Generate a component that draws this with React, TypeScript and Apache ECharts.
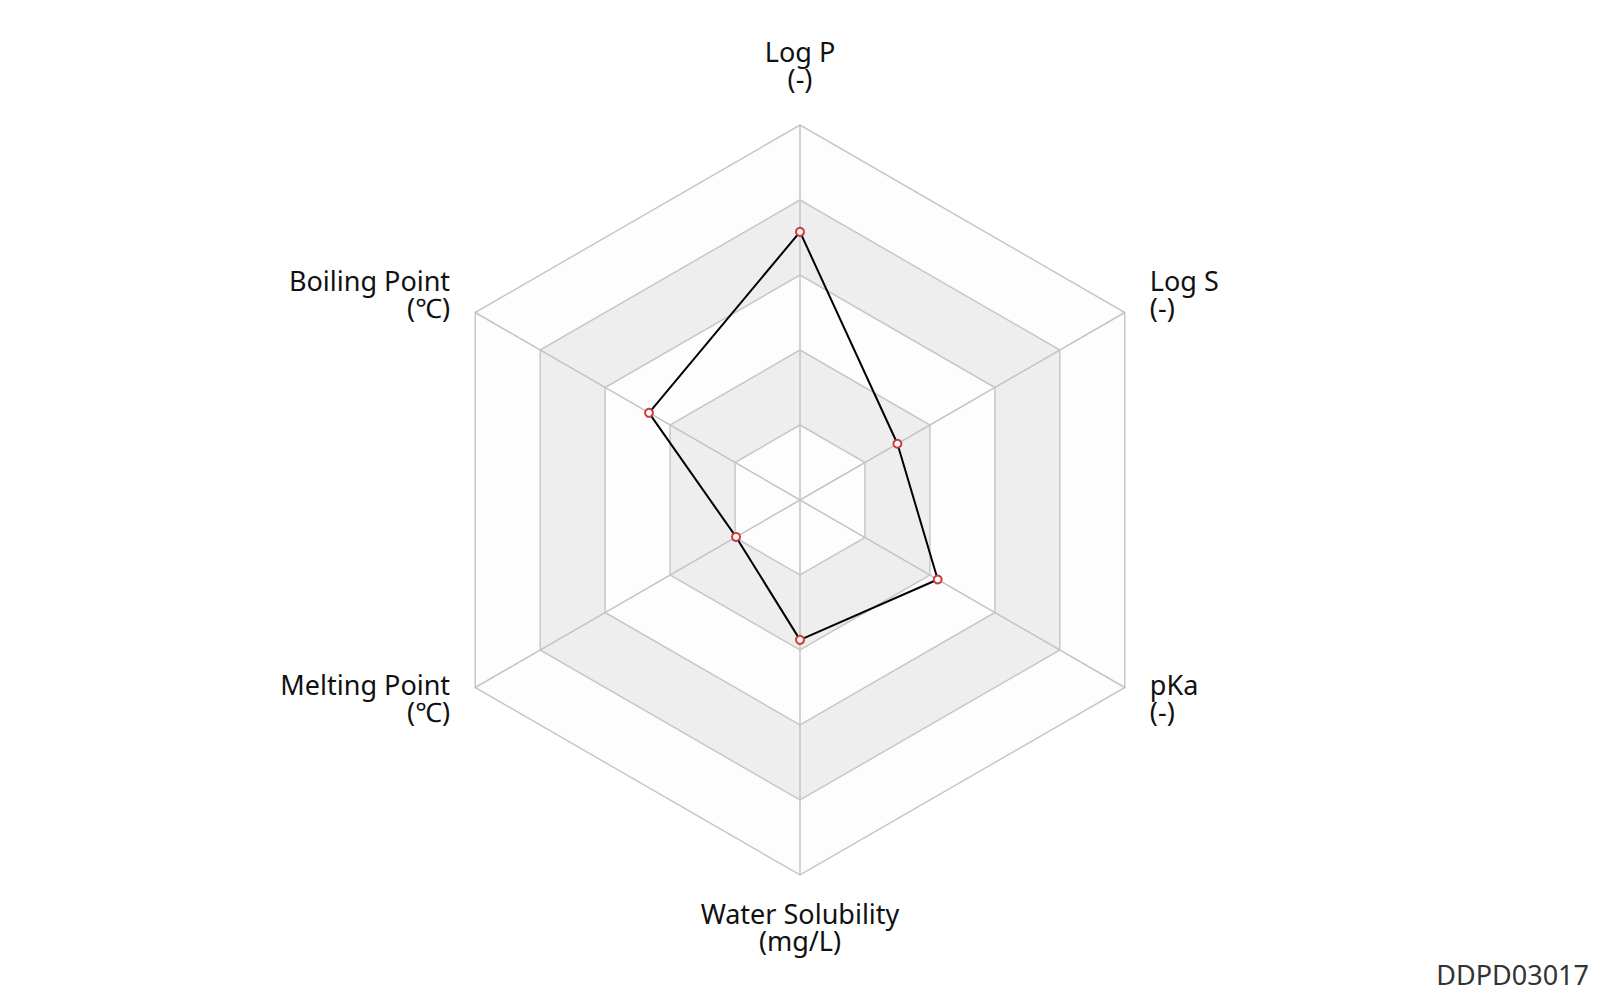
import React, { useEffect, useRef } from "react";
import * as echarts from "echarts";

// Order follows ECharts' counter-clockwise layout starting at the top:
// top, upper-left, lower-left, bottom, lower-right, upper-right
const indicatorNames = ["Log P", "Boiling Point", "Melting Point", "Water Solubility", "pKa", "Log S"];
const indicatorUnits = ["(-)", "(℃)", "(℃)", "(mg/L)", "(-)", "(-)"];
const indicatorMax = [1, 1, 1, 1, 1, 1];
const seriesValues = [0.715, 0.465, 0.197, 0.373, 0.424, 0.3];
const watermark = "DDPD03017";

export default function App() {
  const ref = useRef<HTMLDivElement>(null);
  useEffect(() => {
    if (!ref.current) return;
    const chart = echarts.init(ref.current, undefined, { renderer: "svg" });
    const font = "'Noto Sans', 'Open Sans', sans-serif";
    chart.setOption({
      animation: false,
      backgroundColor: "#ffffff",
      radar: {
        center: [800, 500],
        radius: 375,
        startAngle: 90,
        splitNumber: 5,
        shape: "polygon",
        nameGap: 29,
        indicator: indicatorNames.map((n, i) => ({ name: n + "\n" + indicatorUnits[i], max: indicatorMax[i], min: 0 })),
        axisName: {
          color: "#111",
          fontSize: 27,
          fontFamily: font,
          lineHeight: 27,
          padding: [-4, 0, 4, 0],
          formatter: (name: string) =>
            name
              .split("\n")
              .map((s) => "{n|" + s + "}")
              .join("\n"),
          rich: {
            n: { fontSize: 27, fontFamily: font, lineHeight: 27, color: "#111" },
          },
        },
        axisLine: { lineStyle: { color: "#c4c4c4", width: 1.5 } },
        splitLine: { lineStyle: { color: "#c8c8c8", width: 1.5 } },
        splitArea: {
          show: true,
          areaStyle: { color: ["rgba(250,250,250,0.3)", "rgba(200,200,200,0.3)"] },
        },
      },
      graphic: [
        {
          type: "text",
          right: 11,
          bottom: 12,
          style: {
            text: watermark,
            fontSize: 27,
            fontFamily: font,
            fill: "#333",
          },
        },
      ],
      series: [
        {
          type: "radar",
          symbol: "emptyCircle",
          symbolSize: 8,
          lineStyle: { color: "#000", width: 2 },
          itemStyle: { color: "#d0393b", borderColor: "#d0393b", borderWidth: 2 },
          data: [{ value: seriesValues }],
        },
      ],
    });
    return () => chart.dispose();
  }, []);
  return (
    <div
      ref={ref}
      style={{ position: "absolute", left: 0, top: 0, width: 1600, height: 1000 }}
    />
  );
}
